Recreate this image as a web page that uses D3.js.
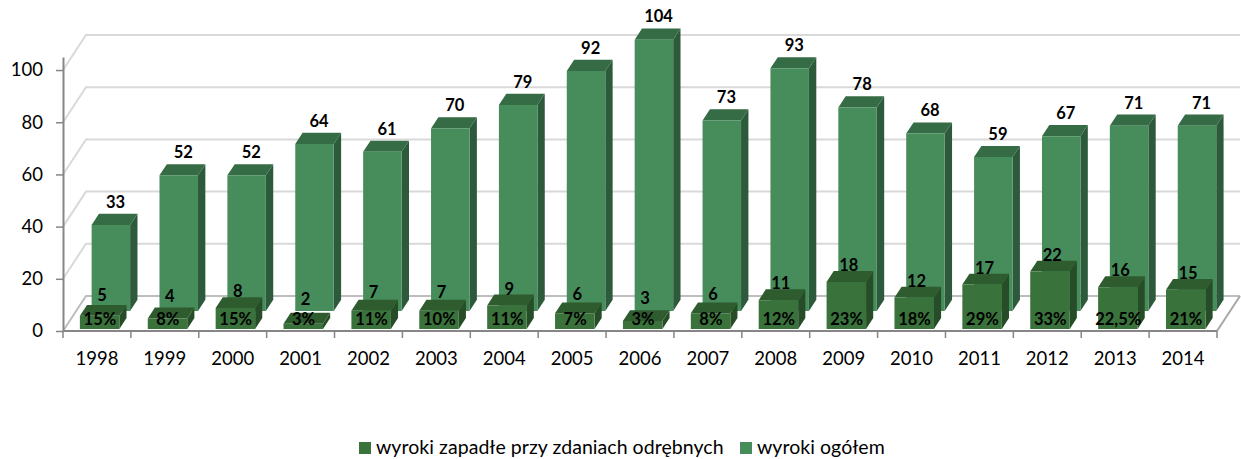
<!DOCTYPE html>
<html>
<head>
<meta charset="utf-8">
<script src="https://cdn.jsdelivr.net/npm/d3@7"></script>
<style>
  html, body { margin: 0; padding: 0; background: #fff; }
  svg { display: block; font-family: Lato, "Open Sans", sans-serif; }
</style>
</head>
<body>
<svg width="1241" height="459"></svg>
<script>
var years = [1998, 1999, 2000, 2001, 2002, 2003, 2004, 2005, 2006, 2007, 2008, 2009, 2010, 2011, 2012, 2013, 2014];
var total = [33, 52, 52, 64, 61, 70, 79, 92, 104, 73, 93, 78, 68, 59, 67, 71, 71];
var separate = [5, 4, 8, 2, 7, 7, 9, 6, 3, 6, 11, 18, 12, 17, 22, 16, 15];
var percents = ["15%", "8%", "15%", "3%", "11%", "10%", "11%", "7%", "3%", "8%", "12%", "23%", "18%", "29%", "33%", "22,5%", "21%"];
var yTicks = [0, 20, 40, 60, 80, 100];
var legendNames = ["wyroki zapadłe przy zdaniach odrębnych", "wyroki ogółem"];

var svg = d3.select("svg");

var x = d3.scaleBand().domain(years).range([63, 1217]);
var y = d3.scaleLinear().domain([0, 105]).range([331, 57]);

// fake 3d: depth 0 is the front edge of the floor, 1 the back wall
var dx = d3.scaleLinear().domain([0, 1]).range([0, 23]);
var dy = d3.scaleLinear().domain([0, 1]).range([0, -35]);

var line = d3.line();

function project(px, value, depth) {
    return [px + dx(depth), y(value) + dy(depth)];
}

// back wall gridlines and the diagonals on the side wall
var grid = svg.append("g");
yTicks.forEach(function (t) {
    grid.append("path")
        .attr("d", line([project(x.range()[0], t, 0), project(x.range()[0], t, 1), project(x.range()[1], t, 1)]))
        .attr("fill", "none")
        .attr("stroke", t === 0 ? "#bdbdbd" : "#d9d9d9")
        .attr("stroke-width", 2);
});

// floor
svg.append("path")
    .attr("d", line([project(x.range()[1], 0, 0), project(x.range()[1], 0, 1)]))
    .attr("fill", "none")
    .attr("stroke", "#a6a6a6")
    .attr("stroke-width", 2);

function drawBars(values, depth0, depth1, barW, colors) {
    var inset = 15.5;
    var g = svg.append("g");
    values.forEach(function (v, i) {
        var x0 = x(years[i]) + inset, x1 = x0 + barW;
        var bar = g.append("g");
        // side face
        bar.append("path")
            .attr("d", line([project(x1, 0, depth0), project(x1, v, depth0), project(x1, v, depth1), project(x1, 0, depth1)]) + "Z")
            .attr("fill", colors.side);
        // top face
        bar.append("path")
            .attr("d", line([project(x0, v, depth0), project(x1, v, depth0), project(x1, v, depth1), project(x0, v, depth1)]) + "Z")
            .attr("fill", colors.top);
        // front face
        bar.append("path")
            .attr("d", line([project(x0, 0, depth0), project(x1, 0, depth0), project(x1, v, depth0), project(x0, v, depth0)]) + "Z")
            .attr("fill", colors.front);
    });
}

drawBars(total, 0.57, 0.89, 38.5, { front: "#478d5c", top: "#356b45", side: "#2d5a3b" });
drawBars(separate, 0.06, 0.37, 39.5, { front: "#39723a", top: "#2e5c2f", side: "#264d27" });

// axes
var yAxis = d3.axisLeft(y).tickValues(yTicks).tickSizeInner(7).tickSizeOuter(0).tickPadding(13);
var yG = svg.append("g").attr("transform", "translate(" + x.range()[0] + ",0)").call(yAxis);
var xAxis = d3.axisBottom(x).tickSize(0).tickPadding(21);
var xG = svg.append("g").attr("transform", "translate(0," + y(0) + ")").call(xAxis);

xG.selectAll(".tick-mark")
    .data(x.domain().map(function (d) { return x(d); }).concat([x.range()[1]]))
    .enter().append("line")
    .attr("class", "tick-mark")
    .attr("x1", function (d) { return d; })
    .attr("x2", function (d) { return d; })
    .attr("y1", 0)
    .attr("y2", 7)
    .attr("stroke", "#868686")
    .attr("stroke-width", 1.5);

[yG, xG].forEach(function (g) {
    g.selectAll(".domain").attr("stroke", "#868686").attr("stroke-width", 2);
    g.selectAll(".tick line").attr("stroke", "#868686").attr("stroke-width", 1.5);
    g.selectAll("text")
        .attr("font-family", "Lato, 'Open Sans', sans-serif")
        .attr("font-size", 18.5)
        .attr("fill", "#000");
});
xG.selectAll(".domain").attr("d", "M" + x.range()[0] + ",0H" + x.range()[1]);

// value labels
var labels = svg.append("g")
    .attr("font-weight", 700)
    .attr("font-size", 16.5)
    .attr("fill", "#000")
    .attr("text-anchor", "middle");

total.forEach(function (v, i) {
    var p = project(x(years[i]) + 35, v, 0.89);
    labels.append("text").attr("x", p[0] - 3).attr("y", p[1] - 6).text(v);
});
separate.forEach(function (v, i) {
    var p = project(x(years[i]) + 35, v, 0.37);
    var lift = Math.max(5, 15 - 1.2 * v);
    labels.append("text").attr("x", p[0] - 4.5).attr("y", p[1] - lift + 5).text(v);
});
percents.forEach(function (t, i) {
    labels.append("text")
        .attr("x", x(years[i]) + x.bandwidth() / 2 + 3)
        .attr("y", y(0) - 6)
        .text(t);
});

// legend
var legendX = [359, 740];
var legendColors = ["#39723a", "#478d5c"];
var legend = svg.append("g").attr("font-size", 19.5).attr("letter-spacing", 0.05).attr("fill", "#000");
legendNames.forEach(function (name, i) {
    legend.append("rect")
        .attr("x", legendX[i]).attr("y", 442)
        .attr("width", 12).attr("height", 12)
        .attr("fill", legendColors[i]);
    legend.append("text")
        .attr("x", legendX[i] + 17).attr("y", 454)
        .text(name);
});
</script>
</body>
</html>
